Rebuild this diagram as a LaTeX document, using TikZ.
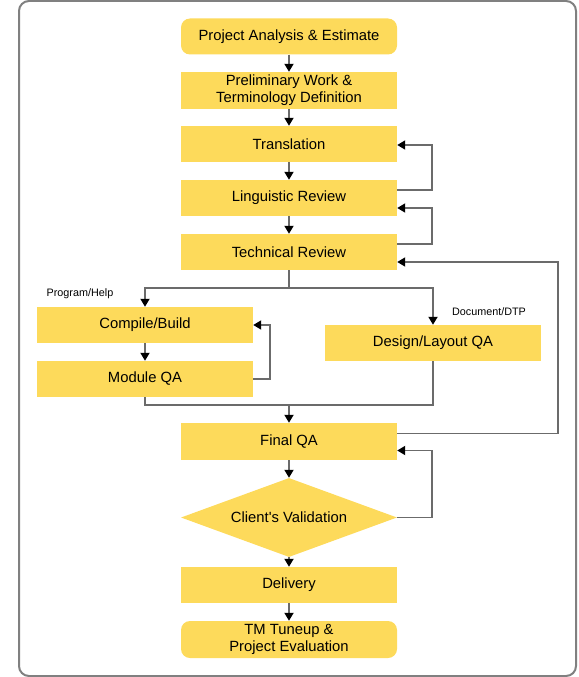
\documentclass[tikz,border=0pt]{standalone}
\usepackage{xcolor}
\usepackage{fontspec}
\setmainfont{Liberation Sans}
\usepackage{tikz}
\usetikzlibrary{shapes.geometric, arrows.meta, calc}

\definecolor{boxyellow}{HTML}{FDDA5B}
\definecolor{linegray}{HTML}{6B6B6B}
\definecolor{framegray}{HTML}{808080}

\begin{document}
\begin{tikzpicture}[
    x=1pt, y=-1pt,
    stepbox/.style={rectangle, fill=boxyellow, minimum width=216pt, minimum height=36pt, inner sep=0pt, align=center, font=\fontsize{14.8}{17}\selectfont},
    endbox/.style={stepbox, rounded corners=9pt},
    decision/.style={diamond, fill=boxyellow, aspect=2.7, minimum width=216pt, minimum height=79pt, inner sep=0pt, font=\fontsize{14.8}{17}\selectfont},
    branchlabel/.style={inner sep=0pt, font=\fontsize{10.8}{12}\selectfont},
    arrow/.style={-{Triangle[length=8pt, width=9pt, color=black]}, line width=1.8pt, draw=linegray},
    link/.style={line width=1.8pt, draw=linegray}
]
\useasboundingbox (0,0) rectangle (578,677);
% Outer frame
\draw[framegray, line width=2pt, rounded corners=10pt] (19,1) rectangle (576,676);
% Main column
\node[endbox] (analysis) at (289, 36.5) {Project Analysis \& Estimate};
\node[stepbox, minimum height=37pt] (prelim) at (289, 90.5) {Preliminary Work \&\\Terminology Definition};
\node[stepbox] (trans) at (289, 144) {Translation};
\node[stepbox] (ling) at (289, 198) {Linguistic Review};
\node[stepbox] (tech) at (289, 252) {Technical Review};
% Branches
\node[stepbox] (compile) at (145, 325) {Compile/Build};
\node[stepbox] (modqa) at (145, 379) {Module QA};
\node[stepbox] (design) at (433, 343) {Design/Layout QA};
\node[branchlabel] (proglbl) at (80, 294) {Program/Help};
\node[branchlabel] (doclbl) at (489, 312) {Document/DTP};
% Lower column
\node[stepbox, minimum height=37pt] (final) at (289, 441.5) {Final QA};
\node[decision] (valid) at (289, 517.5) {Client\textquotesingle s Validation};
\node[stepbox] (delivery) at (289, 585) {Delivery};
\node[endbox, minimum height=37pt] (tuneup) at (289, 639.5) {TM Tuneup \&\\Project Evaluation};
% Straight flow
\draw[arrow] (analysis) -- (prelim);
\draw[arrow] (prelim) -- (trans);
\draw[arrow] (trans) -- (ling);
\draw[arrow] (ling) -- (tech);
\draw[arrow] (compile) -- (modqa);
\draw[arrow] (final) -- (valid);
\draw[arrow] (valid) -- (delivery);
\draw[arrow] (delivery) -- (tuneup);
% Split after technical review
\coordinate (split) at ([yshift=-18pt]tech.south);
\draw[link] (tech.south) -- (split);
\draw[arrow] (split) -| (compile.north);
\draw[arrow] (split) -| (design.north);
% Join before final QA
\coordinate (join) at ([yshift=18pt]final.north);
\draw[link] (modqa.south) |- (join);
\draw[link] (design.south) |- (join);
\draw[arrow] (join) -- (final.north);
% Feedback loops
\draw[arrow] ([yshift=8pt]ling.east) -- ++(35,0) |- ([yshift=-1pt]trans.east);
\draw[arrow] ([yshift=8pt]tech.east) -- ++(35,0) |- ([yshift=-10pt]ling.east);
\draw[arrow] (modqa.east) -- ++(17,0) |- (compile.east);
\draw[arrow] ([yshift=8pt]final.east) -- ++(161,0) |- ([yshift=-10pt]tech.east);
\draw[arrow] (valid.east) -- ++(35,0) |- ([yshift=-9pt]final.east);
\end{tikzpicture}
\end{document}
